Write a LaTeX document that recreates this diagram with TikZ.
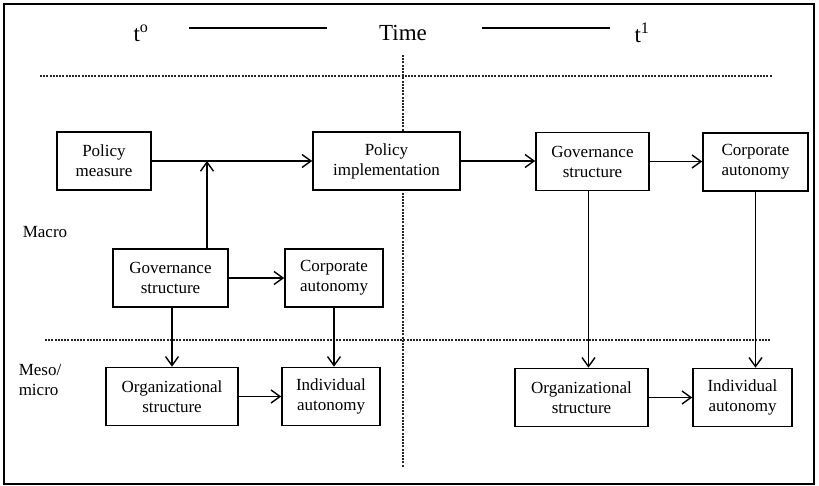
\documentclass[tikz,border=0pt]{standalone}
\usepackage{fontspec}
\setmainfont{Liberation Serif}
\usetikzlibrary{arrows.meta}

\begin{document}
\begin{tikzpicture}[x=1pt, y=-1pt,
    box/.style = {draw, fill=white, line width=1.6pt, align=center, minimum height=58pt,
                  inner sep=2pt, font=\fontsize{17}{20}\selectfont},
    lbl/.style = {align=left, font=\fontsize{17}{20}\selectfont},
    link/.style = {line width=1.4pt, -{Straight Barb[length=9pt,width=13pt]}},
    sep/.style = {line width=1.1pt, black!85, dash pattern=on 2pt off 1.2pt}]
    \useasboundingbox (0,0) rectangle (819,486);
    \draw [line width=1.2pt] (4,4) rectangle (814,484);

    % time axis
    \node (t0) at (141,33) {\fontsize{23}{26}\selectfont t\textsuperscript{o}};
    \node (time) at (403,33) {\fontsize{23}{26}\selectfont Time};
    \node (t1) at (642,33) {\fontsize{23}{26}\selectfont t\textsuperscript{1}};
    \draw [line width=1.5pt] (189,28) -- (327,28);
    \draw [line width=1.5pt] (482,28) -- (610,28);

    % separators
    \draw [sep] (40,76) -- (772,76);
    \draw [sep] (45,340) -- (770,340);
    \draw [sep] (403,55) -- (403,467);

    \node [lbl] (macro) at (45,232) {Macro};
    \node [lbl] (meso) at (40,380) {Meso/\\micro};

    % t0 side
    \node [box, minimum width=94pt] (pm) at (104,161) {Policy\\measure};
    \node [box, minimum width=115pt] (gl) at (170.5,278) {Governance\\structure};
    \node [box, minimum width=98pt] (cl) at (334,278) {Corporate\\autonomy};
    \node [box, minimum width=132pt] (ol) at (172,396.5) {Organizational\\structure};
    \node [box, minimum width=98pt] (il) at (331,396.5) {Individual\\autonomy};

    % t1 side
    \node [box, minimum width=147pt] (pi) at (386.5,161) {Policy\\implementation};
    \node [box, minimum width=113pt] (gr) at (592.5,161.5) {Governance\\structure};
    \node [box, minimum width=105pt] (cr) at (755.5,162) {Corporate\\autonomy};
    \node [box, minimum width=133pt] (or) at (581.5,397.5) {Organizational\\structure};
    \node [box, minimum width=99pt] (ir) at (742.5,397.5) {Individual\\autonomy};

    \coordinate (j) at (207,161);

    \draw [link] (pm) -- (pi);
    \draw [link] (gl.north -| j) -- (j);
    \draw [link] (gl) -- (cl);
    \draw [link] (gl.south -| ol.north) -- (ol.north);
    \draw [link] (cl.south) -- (cl.south |- il.north);
    \draw [link] (ol) -- (il);

    \draw [link] (pi) -- (pi -| gr.west);
    \draw [link] (gr) -- (gr -| cr.west);
    \draw [link] ([xshift=-4pt]gr.south) -- ([xshift=-4pt]gr.south |- or.north);
    \draw [link] (cr.south) -- (cr.south |- ir.north);
    \draw [link] (or) -- (ir);
\end{tikzpicture}
\end{document}
